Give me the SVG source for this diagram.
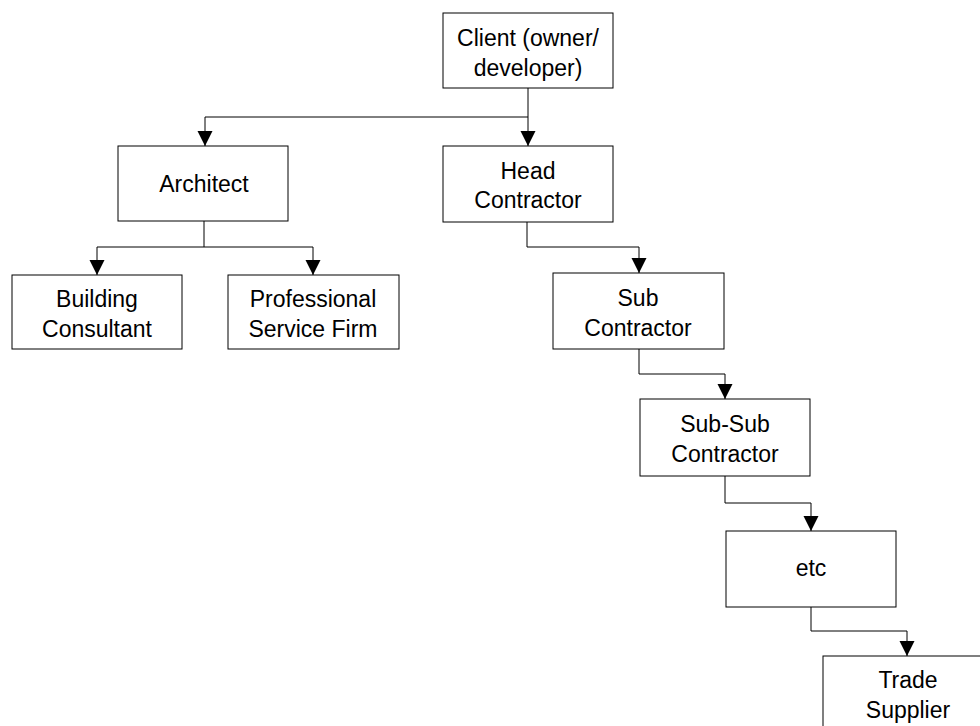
<svg xmlns="http://www.w3.org/2000/svg" width="980" height="726" viewBox="0 0 980 726">
<style>
.box{fill:#fff;stroke:#000;stroke-width:1}
.lbl{font-family:"Liberation Sans",Arial,sans-serif;font-size:23px;fill:#000;text-anchor:middle}
.con{fill:none;stroke:#000;stroke-width:1}
</style>
<defs>
<marker id="arr" markerUnits="userSpaceOnUse" markerWidth="16" markerHeight="16" refX="15" refY="7.5" orient="auto">
<path d="M0,0 L15,7.5 L0,15 z" fill="#000"/>
</marker>
</defs>
<rect width="980" height="726" fill="#fff"/>
<g id="connectors">
<path class="con" d="M528,88 V117 H205 V146" marker-end="url(#arr)"/>
<path class="con" d="M528,117 V146" marker-end="url(#arr)"/>
<path class="con" d="M204,221 V247 H97 V275" marker-end="url(#arr)"/>
<path class="con" d="M204,247 H313 V275" marker-end="url(#arr)"/>
<path class="con" d="M527,222 V247 H639 V273" marker-end="url(#arr)"/>
<path class="con" d="M639,349 V374 H725 V399" marker-end="url(#arr)"/>
<path class="con" d="M725,476 V503 H811 V531" marker-end="url(#arr)"/>
<path class="con" d="M811,607 V631 H907 V656" marker-end="url(#arr)"/>
</g>
<g id="client"><rect class="box" x="443" y="13" width="170" height="75"/><text class="lbl" x="528" y="46">Client (owner/</text><text class="lbl" x="528" y="76">developer)</text></g>
<g id="architect"><rect class="box" x="118" y="146" width="170" height="75"/><text class="lbl" x="204" y="192">Architect</text></g>
<g id="head"><rect class="box" x="443" y="146" width="170" height="76"/><text class="lbl" x="528" y="179">Head</text><text class="lbl" x="528" y="208">Contractor</text></g>
<g id="building"><rect class="box" x="12" y="275" width="170" height="74"/><text class="lbl" x="97" y="307">Building</text><text class="lbl" x="97" y="337">Consultant</text></g>
<g id="psf"><rect class="box" x="228" y="275" width="171" height="74"/><text class="lbl" x="313" y="307">Professional</text><text class="lbl" x="313" y="337">Service Firm</text></g>
<g id="sub"><rect class="box" x="553" y="273" width="171" height="76"/><text class="lbl" x="638" y="306">Sub</text><text class="lbl" x="638" y="336">Contractor</text></g>
<g id="subsub"><rect class="box" x="640" y="399" width="170" height="77"/><text class="lbl" x="725" y="432">Sub-Sub</text><text class="lbl" x="725" y="462">Contractor</text></g>
<g id="etc"><rect class="box" x="726" y="531" width="170" height="76"/><text class="lbl" x="811" y="576">etc</text></g>
<g id="trade"><rect class="box" x="823" y="656" width="170" height="75"/><text class="lbl" x="908" y="688">Trade</text><text class="lbl" x="908" y="718">Supplier</text></g>
</svg>
